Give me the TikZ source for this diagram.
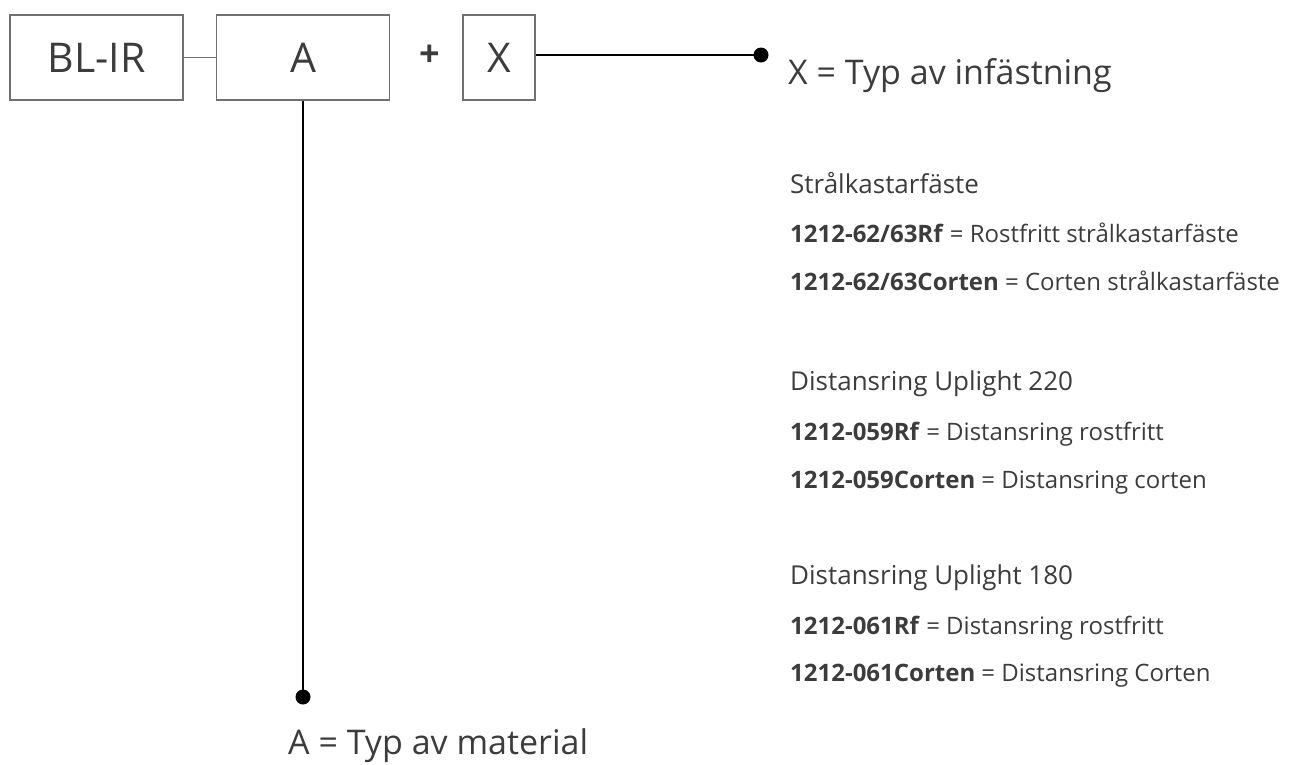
\documentclass[tikz,border=0pt]{standalone}
\usepackage{fontspec}
\setmainfont{Open Sans}
\usepackage{tikz}
\usetikzlibrary{positioning}

\definecolor{textgray}{HTML}{3C3C3C}
\definecolor{framegray}{HTML}{707070}

\begin{document}
\begin{tikzpicture}[
    x = 1pt, y = -1pt, % pixel units, y downwards
    every node/.style = {text = textgray},
    lead/.style = {black, line width = 2.5pt} % leader line style
    ]

    \tikzset{partbox/.style = {
    draw = framegray,
    line width = 1.3pt,
    fill = white,
    minimum height = 85pt,
    font = \fontsize{41}{45}\selectfont
    }}
    \tikzset{label/.style = {anchor = base west, inner sep = 0pt,
    font = \fontsize{34}{38}\selectfont}}
    \tikzset{head/.style = {anchor = base west, inner sep = 0pt,
    font = \fontsize{26}{30}\selectfont}}
    \tikzset{item/.style = {anchor = base west, inner sep = 0pt,
    font = \fontsize{24}{28}\selectfont}}

    \useasboundingbox (0,0) rectangle (1292,764);

    \node[partbox, minimum width = 173pt] (blir) at (96.5,57.5) {BL-IR};
    \node[partbox, minimum width = 173pt] (a) at (303,57.5) {A};
    \node[font = \fontsize{36}{40}\selectfont\bfseries] (plus) at (430,56) {+};
    \node[partbox, minimum width = 72pt] (x) at (499,57.5) {X};

    \coordinate (xdot) at (761,55);
    \coordinate (adot) at (303,697);

    \draw[framegray, line width = 1.3pt] (blir) -- (a);
    \draw[lead] (x.east |- xdot) -- (xdot);
    \draw[lead] (a) -- (adot);
    \fill[black] (xdot) circle (7.5);
    \fill[black] (adot) circle (7.5);

    \node[label] (xlabel) at (788,84) {X = Typ av infästning};
    \node[label] (alabel) at (288,754) {A = Typ av material};

    \node[head] (h1) at (790,193) {Strålkastarfäste};
    \node[item] (r1) at (790,242) {\textbf{1212-62/63Rf} = Rostfritt strålkastarfäste};
    \node[item] (r2) at (790,290) {\textbf{1212-62/63Corten} = Corten strålkastarfäste};

    \node[head] (h2) at (790,390) {Distansring Uplight 220};
    \node[item] (r3) at (790,440) {\textbf{1212-059Rf} = Distansring rostfritt};
    \node[item] (r4) at (790,488) {\textbf{1212-059Corten} = Distansring corten};

    \node[head] (h3) at (790,584) {Distansring Uplight 180};
    \node[item] (r5) at (790,634) {\textbf{1212-061Rf} = Distansring rostfritt};
    \node[item] (r6) at (790,681) {\textbf{1212-061Corten} = Distansring Corten};
\end{tikzpicture}
\end{document}
